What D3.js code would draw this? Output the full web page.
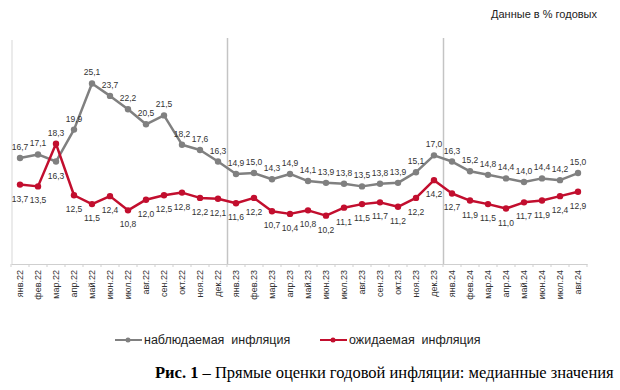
<!DOCTYPE html>
<html>
<head>
<meta charset="utf-8">
<script src="https://cdn.jsdelivr.net/npm/d3@7"></script>
<style>
  body { margin: 0; background: #fff; }
  svg { display: block; font-family: "Liberation Sans", Arial, sans-serif; }
</style>
</head>
<body>
<svg id="chart" width="620" height="390"></svg>
<script>
// months Jan 2022 .. Aug 2024
const months = [
  "янв.22", "фев.22", "мар.22", "апр.22", "май.22", "июн.22", "июл.22", "авг.22", "сен.22", "окт.22", "ноя.22", "дек.22",
  "янв.23", "фев.23", "мар.23", "апр.23", "май.23", "июн.23", "июл.23", "авг.23", "сен.23", "окт.23", "ноя.23", "дек.23",
  "янв.24", "фев.24", "мар.24", "апр.24", "май.24", "июн.24", "июл.24", "авг.24"
];
const observed = [
  16.7, 17.1, 16.3, 19.9, 25.1, 23.7, 22.2, 20.5, 21.5, 18.2, 17.6, 16.3,
  14.9, 15.0, 14.3, 14.9, 14.1, 13.9, 13.8, 13.5, 13.8, 13.9, 15.1, 17.0,
  16.3, 15.2, 14.8, 14.4, 14.0, 14.4, 14.2, 15.0
];
const expected = [
  13.7, 13.5, 18.3, 12.5, 11.5, 12.4, 10.8, 12.0, 12.5, 12.8, 12.2, 12.1,
  11.6, 12.2, 10.7, 10.4, 10.8, 10.2, 11.1, 11.5, 11.7, 11.2, 12.2, 14.2,
  12.7, 11.9, 11.5, 11.0, 11.7, 11.9, 12.4, 12.9
];
const yearStarts = ["янв.23", "янв.24"];

const svg = d3.select("#chart");
const marginLeft = 11, plotRight = 587, plotTop = 40, plotBottom = 264;

const x = d3.scaleBand(months, [marginLeft, plotRight]);
const cx = (m) => x(m) + x.bandwidth() / 2;
const y = d3.scaleLinear([4.75, 30], [plotBottom, plotTop]);

const fmt = (v) => d3.format(".1f")(v).replace(".", ",");

// faint left border
svg.append("line")
  .attr("x1", marginLeft + 1).attr("x2", marginLeft + 1)
  .attr("y1", plotTop).attr("y2", plotBottom)
  .attr("stroke", "#e4e4e4").attr("stroke-width", 1.5);

// year separators
svg.append("g")
  .selectAll("line")
  .data(yearStarts)
  .join("line")
  .attr("x1", (d) => x(d) + 0.5).attr("x2", (d) => x(d) + 0.5)
  .attr("y1", plotTop - 2).attr("y2", plotBottom)
  .attr("stroke", "#c4c4c4").attr("stroke-width", 1.5);

// x axis
const xAxis = svg.append("g")
  .attr("transform", `translate(0,${plotBottom})`)
  .call(d3.axisBottom(x).tickSize(0).tickPadding(0));
xAxis.select(".domain").attr("stroke", "#cfcfcf");
xAxis.selectAll(".tick text")
  .attr("transform", "rotate(-90)")
  .attr("text-anchor", "end")
  .attr("x", -6).attr("y", 0).attr("dy", "0.32em")
  .attr("font-size", 9)
  .attr("font-family", "Liberation Sans, Arial, sans-serif")
  .attr("fill", "#333");

// tick marks at band boundaries
svg.append("g")
  .selectAll("line")
  .data(months.concat(["end"]))
  .join("line")
  .attr("x1", (d, i) => marginLeft + i * x.step())
  .attr("x2", (d, i) => marginLeft + i * x.step())
  .attr("y1", plotBottom).attr("y2", plotBottom + 3)
  .attr("stroke", "#cfcfcf");

const line = d3.line().x((d, i) => cx(months[i])).y((d) => y(d));

const series = [
  { name: "наблюдаемая  инфляция", values: observed, color: "#808080", above: true },
  { name: "ожидаемая  инфляция", values: expected, color: "#c20e2e", above: false }
];

series.forEach((s) => {
  svg.append("path")
    .datum(s.values)
    .attr("fill", "none")
    .attr("stroke", s.color)
    .attr("stroke-width", 2.5)
    .attr("stroke-linejoin", "round")
    .attr("d", line);

  svg.append("g")
    .selectAll("circle")
    .data(s.values)
    .join("circle")
    .attr("cx", (d, i) => cx(months[i]))
    .attr("cy", (d) => y(d))
    .attr("r", 3.2)
    .attr("fill", s.color);
});

// value labels: observed above, expected below, except where lines cross (Mar 22)
const flip = new Set(["мар.22"]);
series.forEach((s) => {
  svg.append("g")
    .selectAll("text")
    .data(s.values)
    .join("text")
    .attr("x", (d, i) => cx(months[i]))
    .attr("y", (d, i) => {
      const up = flip.has(months[i]) ? !s.above : s.above;
      return up ? y(d) - 8 : y(d) + 17;
    })
    .attr("text-anchor", "middle")
    .attr("font-size", 8.5)
    .attr("fill", "#333")
    .text(fmt);
});

// unit note
svg.append("text")
  .attr("x", 597).attr("y", 18)
  .attr("text-anchor", "end")
  .attr("font-size", 11)
  .attr("fill", "#222")
  .text("Данные в % годовых");

// legend
const legend = svg.append("g")
  .selectAll("g")
  .data(series)
  .join("g")
  .attr("transform", (d, i) => `translate(${i === 0 ? 115 : 320},340)`);
legend.append("line")
  .attr("x1", 0).attr("x2", 27)
  .attr("stroke", (d) => d.color).attr("stroke-width", 2);
legend.append("circle")
  .attr("cx", 13).attr("r", 2.5)
  .attr("fill", (d) => d.color);
legend.append("text")
  .attr("x", 29).attr("dy", "0.35em")
  .attr("font-size", 12.5)
  .attr("fill", "#222")
  .style("white-space", "pre")
  .text((d) => d.name);

// caption
const caption = svg.append("text")
  .attr("x", 155).attr("y", 378)
  .attr("font-family", "Liberation Serif, Times New Roman, serif")
  .attr("font-size", 16.5)
  .attr("fill", "#000");
caption.append("tspan").attr("font-weight", "bold").text("Рис. 1");
caption.append("tspan").text(" – Прямые оценки годовой инфляции: медианные значения");
</script>
</body>
</html>
